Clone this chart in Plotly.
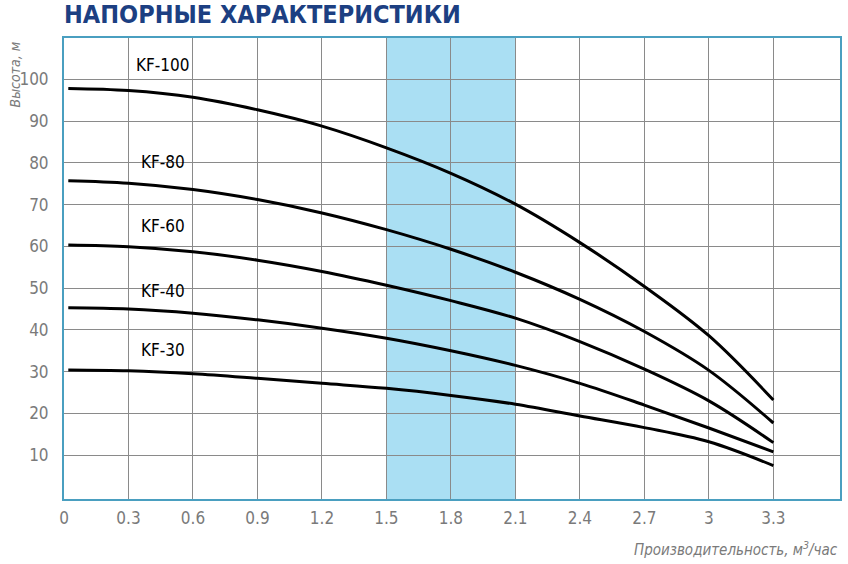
import plotly.graph_objects as go

# flow rate, m3/h
flow = [0.02, 0.3, 0.6, 0.9, 1.2, 1.5, 1.8, 2.1, 2.4, 2.7, 3.0, 3.3]

# head, m
kf100 = [97.8, 97.3, 95.7, 92.7, 88.8, 83.6, 77.5, 70.1, 60.9, 50.4, 38.6, 23.2]
kf80 = [75.7, 75.1, 73.6, 71.2, 68.0, 64.0, 59.3, 53.8, 47.3, 39.6, 30.3, 17.7]
kf60 = [60.3, 59.9, 58.7, 56.7, 54.0, 50.7, 47.0, 42.8, 37.2, 30.6, 23.0, 13.0]
kf40 = [45.3, 45.0, 44.0, 42.4, 40.4, 38.0, 35.0, 31.5, 27.2, 22.0, 16.5, 10.8]
kf30 = [30.4, 30.2, 29.5, 28.4, 27.2, 26.0, 24.3, 22.2, 19.4, 16.6, 13.2, 7.5]

models = ["KF-100", "KF-80", "KF-60", "KF-40", "KF-30"]
curves = [kf100, kf80, kf60, kf40, kf30]
label_y = [103.4, 80.2, 64.9, 49.3, 35.2]

x_ticks = [0, 0.3, 0.6, 0.9, 1.2, 1.5, 1.8, 2.1, 2.4, 2.7, 3.0, 3.3]
x_ticktext = ["0", "0.3", "0.6", "0.9", "1.2", "1.5", "1.8", "2.1", "2.4", "2.7", "3", "3.3"]
y_ticks = [10, 20, 30, 40, 50, 60, 70, 80, 90, 100]

work_zone = [1.5, 2.1]

narrow = "Noto Sans Condensed, Liberation Sans Narrow, DejaVu Sans Condensed, Roboto, sans-serif"
grey = "#7a7a7a"
border = "#4a9fc0"

fig = go.Figure()

for name, head in zip(models, curves):
    fig.add_trace(go.Scatter(
        x=flow, y=head, mode="lines", name=name,
        line=dict(color="black", width=3, shape="spline", smoothing=1.0),
        showlegend=False, hoverinfo="x+y+name",
    ))

for name, ly in zip(models, label_y):
    fig.add_annotation(x=0.46, y=ly, text=name, showarrow=False,
                       font=dict(family=narrow, size=17, color="black"))

# working range
fig.add_shape(type="rect", xref="x", yref="y",
              x0=work_zone[0], x1=work_zone[1], y0=-0.5, y1=110,
              fillcolor="#aadff3", line=dict(width=0), layer="below")

fig.update_xaxes(
    range=[0, 3.61], tickvals=x_ticks, ticktext=x_ticktext,
    showgrid=True, gridcolor="#8a8a8a", gridwidth=1,
    showline=True, linecolor=border, linewidth=2, mirror=True,
    zeroline=False, ticks="", ticklabelstandoff=3,
    tickfont=dict(family=narrow, size=17, color=grey),
)
fig.update_yaxes(
    range=[-0.5, 109.9], tickvals=y_ticks,
    showgrid=True, gridcolor="#8a8a8a", gridwidth=1,
    showline=True, linecolor=border, linewidth=2, mirror=True,
    zeroline=False, ticks="", ticklabelstandoff=10,
    tickfont=dict(family=narrow, size=17, color=grey),
)

fig.add_annotation(xref="paper", yref="paper", x=-0.063, y=0.997,
                   xanchor="center", yanchor="top", textangle=-90,
                   text="<i>Высота, м</i>", showarrow=False,
                   font=dict(family=narrow, size=14, color=grey))
fig.add_annotation(xref="paper", yref="paper", x=1.0, y=-0.108,
                   xanchor="right", yanchor="middle",
                   text="<i>Производительность, м<sup>3</sup>/час</i>", showarrow=False,
                   font=dict(family=narrow, size=15, color=grey))
fig.add_annotation(xref="paper", yref="paper", x=-0.002, y=1.052,
                   xanchor="left", yanchor="middle",
                   text="<b>НАПОРНЫЕ ХАРАКТЕРИСТИКИ</b>", showarrow=False,
                   font=dict(family=narrow, size=25, color="#1c3f82"))

fig.update_layout(
    width=848, height=564,
    margin=dict(l=64, r=8, t=38, b=65, autoexpand=False),
    plot_bgcolor="white", paper_bgcolor="white",
)

fig.write_html("out.html", config={"displayModeBar": False},
               post_script="document.body.style.margin='0';")
